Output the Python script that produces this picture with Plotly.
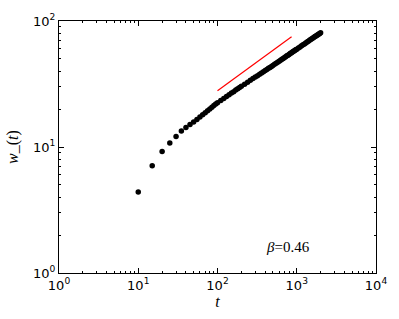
import plotly.graph_objects as go

t_vals = [10, 15, 20, 25, 30, 35, 40, 45, 50, 55, 60, 65, 70, 75, 80, 85, 90, 95, 100,
          110, 120, 130, 140, 150, 160, 170, 180, 190, 200,
          220, 240, 260, 280, 300, 320, 340, 360, 380, 400, 420, 440, 460, 480, 500,
          525, 550, 575, 600, 625, 650, 675, 700, 725, 750, 775, 800, 825, 850, 875,
          900, 925, 950, 975, 1000, 1050, 1100, 1150, 1200, 1250, 1300, 1350, 1400,
          1450, 1500, 1550, 1600, 1650, 1700, 1750, 1800, 1850, 1900, 1950, 2000]
w_vals = [4.4, 7.1, 9.2, 10.75, 12.1, 13.4, 14.3, 15.1, 15.8, 16.5, 17.3, 18.0, 18.7, 19.4, 20.0, 20.7, 21.3, 21.9, 22.5,
          23.4, 24.3, 25.2, 26.0, 26.8, 27.5, 28.3, 29.0, 29.7, 30.3,
          31.5, 32.7, 33.8, 34.9, 35.9, 36.8, 37.8, 38.7, 39.6, 40.4, 41.3, 42.1, 42.8, 43.6, 44.4,
          45.3, 46.3, 47.1, 48.0, 48.9, 49.7, 50.5, 51.3, 52.1, 52.9, 53.6, 54.3, 55.1, 55.8, 56.5,
          57.2, 57.8, 58.5, 59.2, 59.8, 61.1, 62.3, 63.5, 64.7, 65.8, 67.0, 68.1, 69.1,
          70.2, 71.2, 72.2, 73.2, 74.2, 75.2, 76.1, 77.0, 77.9, 78.8, 79.7, 80.6]

fit_t = [100, 860]
fit_w = [28, 75]

tick_vals = [1, 10, 100, 1000, 10000]
x_tick_text = ["10<sup>0</sup>", "10<sup>1</sup>", "10<sup>2</sup>", "10<sup>3</sup>", "10<sup>4</sup>"]
y_tick_vals = [1, 10, 100]
y_tick_text = ["10<sup>0</sup>", "10<sup>1</sup>", "10<sup>2</sup>"]
x_minor_vals = [2, 3, 4, 5, 6, 7, 8, 9, 20, 30, 40, 50, 60, 70, 80, 90,
                200, 300, 400, 500, 600, 700, 800, 900, 2000, 3000, 4000, 5000, 6000, 7000, 8000, 9000]
y_minor_vals = [2, 3, 4, 5, 6, 7, 8, 9, 20, 30, 40, 50, 60, 70, 80, 90]

fig = go.Figure()
fig.add_trace(go.Scatter(x=t_vals, y=w_vals, mode="markers",
                         marker=dict(color="black", size=5.5, line=dict(width=0)),
                         showlegend=False))
fig.add_trace(go.Scatter(x=fit_t, y=fit_w, mode="lines",
                         line=dict(color="red", width=1.2), showlegend=False))

axis_common = dict(
    type="log", showgrid=False, zeroline=False,
    showline=True, linecolor="black", linewidth=1, mirror="allticks",
    ticks="inside", ticklen=5, tickcolor="black", tickwidth=1,
    tickfont=dict(family="DejaVu Sans", size=13, color="black"),
)

fig.update_xaxes(range=[0, 4], tickvals=tick_vals, ticktext=x_tick_text,
                 minor=dict(tickmode="array", tickvals=x_minor_vals, ticks="inside", ticklen=2,
                            tickcolor="black", tickwidth=1, showgrid=False),
                 title=dict(text="<i>t</i>", font=dict(family="Liberation Serif", size=16, color="black"),
                            standoff=0),
                 **axis_common)
fig.update_yaxes(range=[0, 2], tickvals=y_tick_vals, ticktext=y_tick_text,
                 minor=dict(tickmode="array", tickvals=y_minor_vals, ticks="inside", ticklen=2,
                            tickcolor="black", tickwidth=1, showgrid=False),
                 title=dict(text="<i>w</i>_(<i>t</i>)", font=dict(family="Liberation Serif", size=16, color="black"),
                            standoff=10),
                 **axis_common)

fig.add_annotation(x=0.797, y=0.064, xref="paper", yref="paper", showarrow=False,
                   text="<i>β</i>=0.46",
                   font=dict(family="Liberation Serif", size=15, color="black"))

fig.update_layout(width=399, height=319,
                  margin=dict(l=56, r=16, t=19, b=46),
                  plot_bgcolor="white", paper_bgcolor="white")

fig.write_html("out.html", config={"displayModeBar": False},
               post_script="document.body.style.margin='0px';")
